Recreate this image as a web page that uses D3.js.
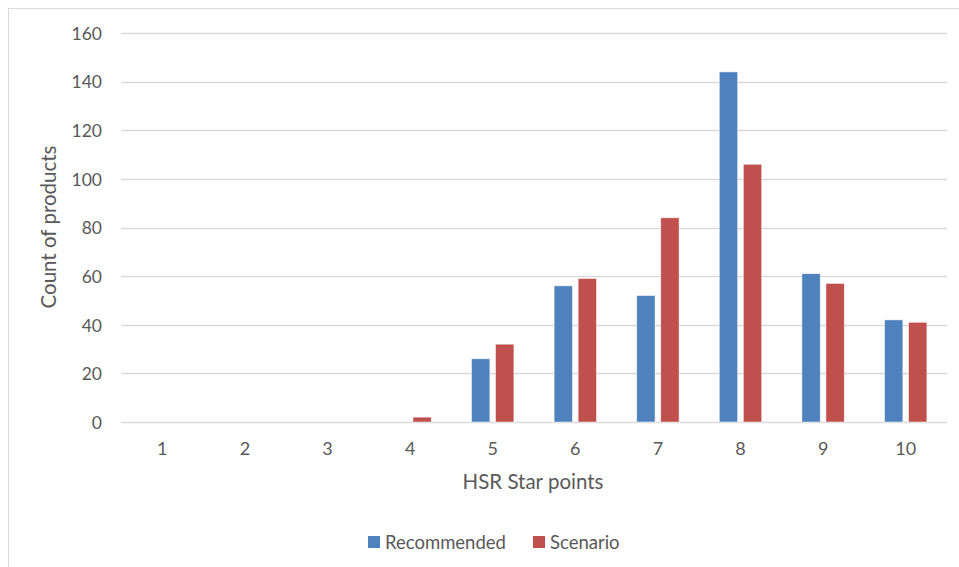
<!DOCTYPE html>
<html>
<head>
<meta charset="utf-8">
<script src="https://cdn.jsdelivr.net/npm/d3@7"></script>
<style>
  html, body { margin: 0; padding: 0; background: #fff; }
  svg { display: block; }
  text { font-family: Lato, "Open Sans", sans-serif; fill: #595959; }
</style>
</head>
<body>
<svg id="chart" width="959" height="567"></svg>
<script>
// HSR star point buckets and product counts per series
const categories = ["1", "2", "3", "4", "5", "6", "7", "8", "9", "10"];
const recommended = [0, 0, 0, 0, 26, 56, 52, 144, 61, 42];
const scenario = [0, 0, 0, 2, 32, 59, 84, 106, 57, 41];
const seriesNames = ["Recommended", "Scenario"];
const seriesColors = ["#4F81BD", "#C0504D"];
const yTicks = [0, 20, 40, 60, 80, 100, 120, 140, 160];

const svg = d3.select("#chart");
const W = 959, H = 567;

// chart area frame
svg.append("rect")
  .attr("x", 8.5).attr("y", 8.5)
  .attr("width", W + 20).attr("height", H + 20)
  .attr("fill", "#fff").attr("stroke", "#d9d9d9").attr("stroke-width", 1);

const plot = { left: 121, right: 947, top: 33, bottom: 422 };

const x = d3.scaleBand().domain(categories).range([plot.left, plot.right]).padding(0);
const y = d3.scaleLinear().domain([0, 160]).range([plot.bottom, plot.top]);

// gridlines
svg.append("g").selectAll("line").data(yTicks).join("line")
  .attr("x1", plot.left).attr("x2", plot.right)
  .attr("y1", d => Math.round(y(d)) + 0.5).attr("y2", d => Math.round(y(d)) + 0.5)
  .attr("stroke", "#d9d9d9").attr("stroke-width", 1.3);

// y tick labels
const yAxis = d3.axisLeft(y).tickValues(yTicks).tickSize(0).tickPadding(0);
const yg = svg.append("g").attr("transform", `translate(${plot.left - 19},0)`).call(yAxis);
yg.select(".domain").remove();
yg.selectAll("text").attr("font-size", 17.5).attr("fill", "#595959")
  .attr("font-family", "Lato, sans-serif").attr("dy", "0.36em");

// x tick labels
const xAxis = d3.axisBottom(x).tickSize(0).tickPadding(0);
const xg = svg.append("g").attr("transform", `translate(0,${plot.bottom + 20})`).call(xAxis);
xg.select(".domain").remove();
xg.selectAll("text").attr("font-size", 18).attr("fill", "#595959")
  .attr("font-family", "Lato, sans-serif").attr("dy", "0.71em");

// grouped bars
const series = [recommended, scenario];
const bw = x.bandwidth();
const barW = bw * 0.222;
const innerGap = bw * 0.069;
const groupW = barW * 2 + innerGap;
series.forEach((vals, si) => {
  svg.append("g").selectAll("rect").data(vals).join("rect")
    .attr("x", (d, i) => x(categories[i]) + (bw - groupW) / 2 + si * (barW + innerGap))
    .attr("y", d => y(d))
    .attr("width", barW)
    .attr("height", d => y(0) - y(d))
    .attr("fill", seriesColors[si])
    .attr("stroke", "#ffffff").attr("stroke-opacity", 0.6).attr("stroke-width", 0.8);
});

// axis titles
svg.append("text")
  .attr("x", (plot.left + plot.right) / 2 - 1).attr("y", 489)
  .attr("text-anchor", "middle").attr("font-size", 20.5)
  .text("HSR Star points");

svg.append("text")
  .attr("transform", `translate(56,227) rotate(-90)`)
  .attr("text-anchor", "middle").attr("font-size", 20.5)
  .text("Count of products");

// legend
const legend = svg.append("g");
const legendItems = [
  { name: seriesNames[0], color: seriesColors[0], x: 368 },
  { name: seriesNames[1], color: seriesColors[1], x: 533 }
];
legendItems.forEach(it => {
  legend.append("rect").attr("x", it.x).attr("y", 536)
    .attr("width", 12).attr("height", 12).attr("fill", it.color);
  legend.append("text").attr("x", it.x + 17).attr("y", 548.5)
    .attr("font-size", 18.5).text(it.name);
});
</script>
</body>
</html>
